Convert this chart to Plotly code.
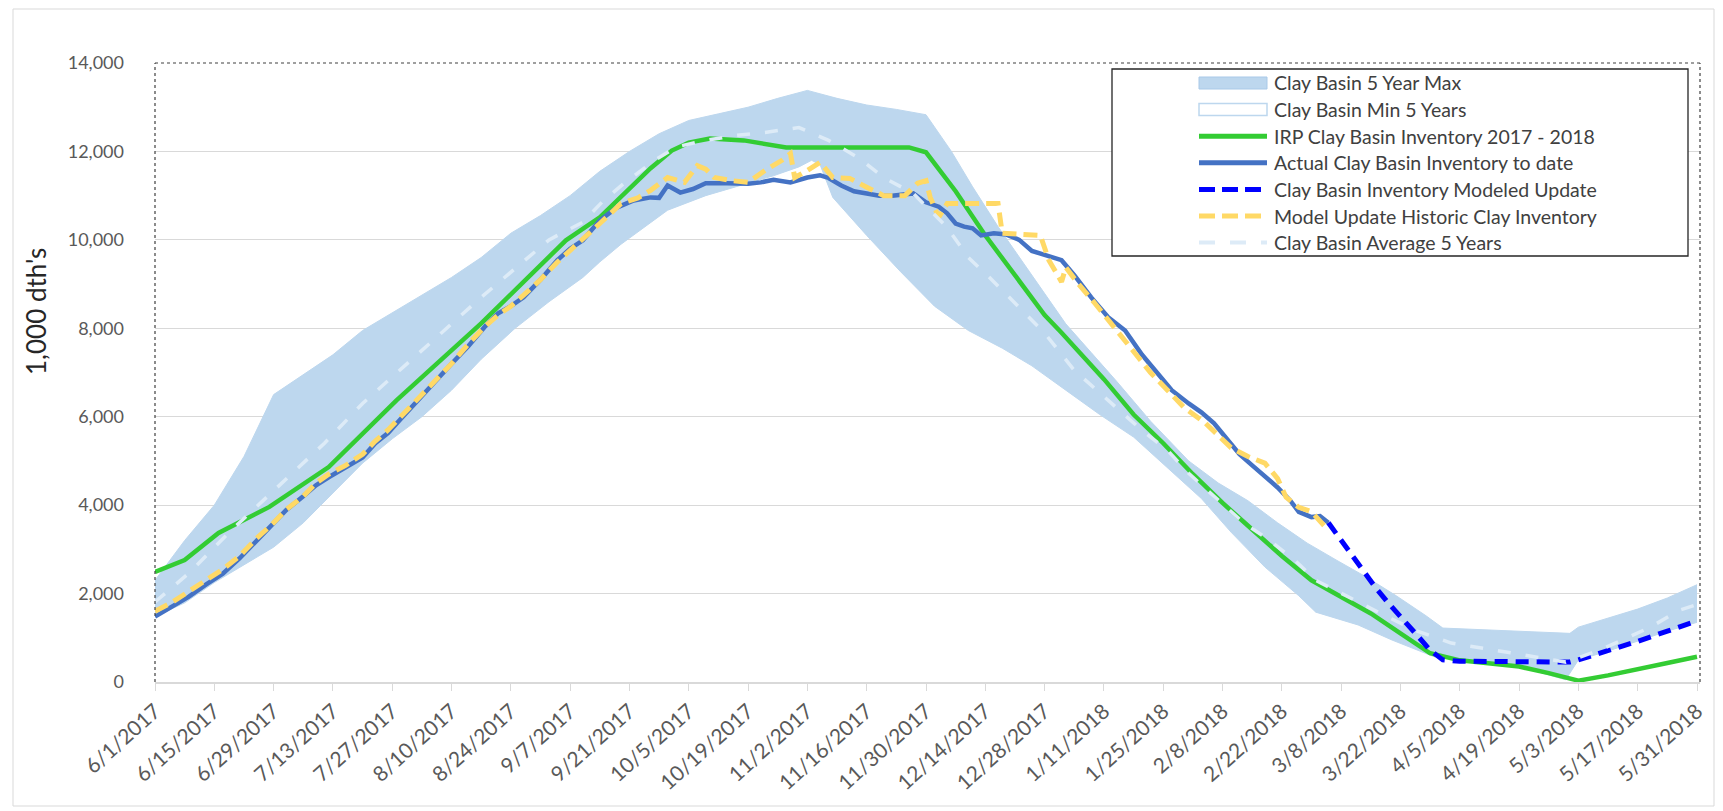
import pandas as pd
import plotly.graph_objects as go

# ---------------- data (values in 1,000 dth's, x = days after 6/1/2017) -------------
base_date = "2017-06-01"

max5_days = [0, 7, 14, 21, 28, 35, 42, 49, 56, 63, 70, 77, 84, 91, 98, 105, 112, 119, 126, 133,
             140, 147, 154, 161, 168, 175, 182, 188, 193, 199, 207, 215, 221, 227, 235, 244, 251,
             258, 265, 272, 279, 286, 293, 300, 304, 319, 334, 336, 343, 350, 357, 364]
max5_vals = [2300, 3200, 4000, 5100, 6500, 6950, 7400, 7950, 8350, 8750, 9150, 9600, 10150, 10550,
             11000, 11550, 12000, 12400, 12700, 12850, 13000, 13200, 13380, 13200, 13050, 12950,
             12830, 12000, 11200, 10300, 9200, 8100, 7450, 6800, 5900, 5000, 4500, 4100, 3600,
             3140, 2750, 2370, 1950, 1500, 1220, 1160, 1100, 1240, 1450, 1650, 1900, 2200]

min5_days = [0, 7, 14, 21, 28, 35, 41, 49, 56, 63, 70, 77, 85, 93, 101, 105, 110, 117, 121, 130,
             140, 146, 152, 155, 157, 160, 168, 176, 184, 192, 200, 207, 215, 223, 231, 239, 247,
             254, 262, 270, 274, 284, 292, 302, 308, 322, 333, 336, 343, 350, 357, 364]
min5_vals = [1480, 1790, 2250, 2650, 3050, 3600, 4180, 4950, 5500, 6000, 6600, 7300, 8000, 8600,
             9150, 9500, 9900, 10400, 10670, 11000, 11280, 11450, 11650, 11800, 11700, 10960,
             10100, 9280, 8500, 7950, 7550, 7150, 6600, 6050, 5540, 4850, 4150, 3390, 2600, 1950,
             1580, 1290, 950, 570, 500, 350, 50, 500, 700, 920, 1150, 1350]

irp_days = [0, 7, 15, 27, 41, 57, 77, 97, 105, 117, 122, 126, 131, 139, 149, 178, 182, 189, 196,
            203, 210, 214, 224, 231, 238, 245, 252, 259, 266, 273, 280, 287, 294, 301, 308, 315,
            322, 329, 336, 343, 350, 357, 364]
irp_vals = [2490, 2760, 3370, 3960, 4860, 6370, 8110, 9990, 10510, 11620, 12020, 12200, 12290,
            12250, 12090, 12090, 11980, 11100, 10100, 9200, 8300, 7900, 6850, 6050, 5400, 4700,
            4050, 3450, 2850, 2300, 1930, 1550, 1100, 650, 490, 430, 350, 200, 30, 150, 300, 430,
            570]

actual_days = [0, 4, 8, 12, 16, 20, 24, 28, 31, 35, 38, 41, 45, 49, 52, 55, 58, 62, 66, 70, 74,
               78, 81, 84, 87, 91, 95, 98, 101, 105, 109, 113, 117, 119, 121, 124, 127, 130, 135,
               140, 143, 146, 150, 154, 157, 159, 162, 165, 168, 171, 174, 177, 179, 182, 185,
               187, 189, 191, 193, 195, 198, 201, 204, 207, 210, 214, 217, 221, 225, 229, 233,
               237, 240, 244, 247, 250, 253, 256, 259, 262, 265, 268, 270, 273, 275, 277]
actual_vals = [1480, 1700, 1930, 2200, 2450, 2800, 3200, 3600, 3890, 4200, 4450, 4630, 4850, 5080,
               5400, 5630, 5950, 6370, 6800, 7200, 7600, 8050, 8340, 8500, 8700, 9100, 9540, 9800,
               9990, 10440, 10730, 10890, 10960, 10950, 11230, 11070, 11150, 11280, 11280, 11270,
               11300, 11360, 11300, 11410, 11460, 11400, 11230, 11100, 11050, 11000, 11000, 11020,
               11050, 10850, 10750, 10600, 10370, 10300, 10260, 10100, 10150, 10120, 10000, 9750,
               9650, 9540, 9200, 8700, 8250, 7950, 7400, 6950, 6600, 6300, 6100, 5850, 5500, 5150,
               4900, 4650, 4400, 4100, 3850, 3730, 3750, 3600]

modeled_days = [277, 280, 284, 288, 291, 295, 298, 301, 304, 308, 322, 334, 336, 343, 350, 357, 364]
modeled_vals = [3600, 3200, 2700, 2150, 1800, 1350, 1050, 720, 500, 470, 450, 450, 500, 700, 920,
                1150, 1380]

historic_days = [0, 4, 8, 12, 16, 20, 24, 28, 31, 35, 38, 41, 45, 49, 52, 55, 58, 62, 66, 70, 74,
                 78, 81, 84, 87, 91, 95, 98, 101, 105, 110, 114, 117, 121, 125, 128, 130, 132,
                 136, 140, 144, 148, 150, 151, 154, 157, 160, 164, 168, 172, 177, 180, 182, 183,
                 185, 187, 193, 199, 200, 205, 209, 211, 214, 215, 218, 222, 227, 231, 235, 239,
                 243, 248, 254, 258, 262, 265, 267, 270, 273, 277]
historic_vals = [1600, 1800, 2050, 2300, 2550, 2850, 3250, 3600, 3900, 4200, 4500, 4700, 4900,
                 5150, 5450, 5700, 6000, 6400, 6800, 7200, 7650, 8050, 8300, 8500, 8750, 9100,
                 9500, 9750, 10000, 10370, 10820, 10950, 11120, 11410, 11300, 11680, 11600, 11410,
                 11340, 11300, 11570, 11800, 11950, 11410, 11570, 11750, 11410, 11390, 11190,
                 11000, 11000, 11280, 11340, 10960, 10510, 10820, 10820, 10820, 10150, 10120,
                 10100, 9540, 9050, 9380, 9000, 8550, 7950, 7500, 7000, 6600, 6200, 5850, 5300,
                 5100, 4950, 4600, 4180, 3950, 3850, 3430]

avg_days = [0, 8, 18, 31, 40, 49, 63, 77, 93, 101, 106, 111, 118, 123, 130, 137, 144, 152, 159,
            166, 172, 179, 187, 192, 197, 203, 210, 217, 223, 228, 233, 239, 244, 250, 257, 263,
            269, 274, 282, 291, 298, 306, 320, 333, 341, 347, 353, 360, 364]
avg_vals = [1810, 2460, 3430, 4600, 5400, 6300, 7500, 8700, 10000, 10400, 10900, 11300, 11800,
            12100, 12250, 12360, 12430, 12540, 12250, 11860, 11410, 11050, 10280, 9600, 9150,
            8560, 7890, 7050, 6530, 6100, 5690, 5240, 4720, 4200, 3600, 3210, 2760, 2300, 1900,
            1470, 1150, 880, 660, 450, 720, 990, 1240, 1630, 1750]

tick_labels = ["6/1/2017", "6/15/2017", "6/29/2017", "7/13/2017", "7/27/2017", "8/10/2017",
               "8/24/2017", "9/7/2017", "9/21/2017", "10/5/2017", "10/19/2017", "11/2/2017",
               "11/16/2017", "11/30/2017", "12/14/2017", "12/28/2017", "1/11/2018", "1/25/2018",
               "2/8/2018", "2/22/2018", "3/8/2018", "3/22/2018", "4/5/2018", "4/19/2018",
               "5/3/2018", "5/17/2018", "5/31/2018"]

series_names = ["Clay Basin 5 Year Max", "Clay Basin Min 5 Years",
                "IRP Clay Basin Inventory 2017 - 2018", "Actual Clay Basin Inventory to date",
                "Clay Basin Inventory Modeled Update", "Model Update Historic Clay Inventory",
                "Clay Basin Average 5 Years"]

# ---------------- helpers ----------------
b = pd.Timestamp(base_date)


def to_dates(days):
    return [b + pd.Timedelta(days=d) for d in days]


tick_vals = list(pd.to_datetime(tick_labels, format="%m/%d/%Y"))

W, H = 1723, 811
ML, MR, MT, MB = 155, 23, 63, 129
PW, PH = W - ML - MR, H - MT - MB


def px(x):
    return (x - ML) / PW


def py(y):
    return (H - MB - y) / PH


BAND = "#BDD7EE"
GREEN = "#33CC33"
ACT = "#4472C4"
MOD = "#0000FF"
HIST = "#FFD966"
AVG = "#DDEBF7"
FONT = "Lato"

fig = go.Figure()
fig.add_trace(go.Scatter(x=to_dates(min5_days), y=min5_vals, mode="lines",
                         line=dict(color=BAND, width=1), name=series_names[1],
                         showlegend=False, hoverinfo="skip"))
fig.add_trace(go.Scatter(x=to_dates(max5_days), y=max5_vals, mode="lines", fill="tonexty",
                         fillcolor=BAND, line=dict(color=BAND, width=1),
                         name=series_names[0], showlegend=False))
fig.add_trace(go.Scatter(x=to_dates(irp_days), y=irp_vals, mode="lines",
                         line=dict(color=GREEN, width=4.5), name=series_names[2],
                         showlegend=False))
fig.add_trace(go.Scatter(x=to_dates(actual_days), y=actual_vals, mode="lines",
                         line=dict(color=ACT, width=4.5), name=series_names[3],
                         showlegend=False))
fig.add_trace(go.Scatter(x=to_dates(modeled_days), y=modeled_vals, mode="lines",
                         line=dict(color=MOD, width=5, dash="13px,8px"), name=series_names[4],
                         showlegend=False))
fig.add_trace(go.Scatter(x=to_dates(historic_days), y=historic_vals, mode="lines",
                         line=dict(color=HIST, width=5, dash="14px,7px"), name=series_names[5],
                         showlegend=False))
fig.add_trace(go.Scatter(x=to_dates(avg_days), y=avg_vals, mode="lines",
                         line=dict(color=AVG, width=3.5, dash="13px,15px"), name=series_names[6],
                         showlegend=False))

shapes = []
annotations = []

# outer chart border
shapes.append(dict(type="rect", xref="paper", yref="paper", x0=px(13), x1=px(1714),
                   y0=py(806), y1=py(9), line=dict(color="#D9D9D9", width=1),
                   fillcolor="rgba(0,0,0,0)", layer="below"))
# plot area dotted border (top, left, right)
for (x0, y0, x1, y1) in [(0, 1, 1, 1), (0, 0, 0, 1), (1, 0, 1, 1)]:
    shapes.append(dict(type="line", xref="paper", yref="paper", x0=x0, y0=y0, x1=x1, y1=y1,
                       line=dict(color="#404040", width=1.2, dash="dot")))

# custom legend
LX0, LX1, LY0, LY1 = 1112, 1688, 69, 256
shapes.append(dict(type="rect", xref="paper", yref="paper", x0=px(LX0), x1=px(LX1),
                   y0=py(LY1), y1=py(LY0), line=dict(color="#262626", width=1.3),
                   fillcolor="white"))
SX0, SX1 = 1199, 1267
rows = [83 + 26.6 * i for i in range(7)]
# band symbols
shapes.append(dict(type="rect", xref="paper", yref="paper", x0=px(SX0), x1=px(SX1),
                   y0=py(rows[0] + 6), y1=py(rows[0] - 6), line=dict(color="#A9C9E8", width=1),
                   fillcolor=BAND))
shapes.append(dict(type="rect", xref="paper", yref="paper", x0=px(SX0), x1=px(SX1),
                   y0=py(rows[1] + 6), y1=py(rows[1] - 6), line=dict(color=BAND, width=1.5),
                   fillcolor="white"))
sym_styles = [(GREEN, 5, None), (ACT, 5, None), (MOD, 5, "16px,7px"), (HIST, 5, "16px,7px"),
              (AVG, 4, "16px,15px")]
for i, (c, w, d) in enumerate(sym_styles):
    ln = dict(color=c, width=w)
    if d:
        ln["dash"] = d
    shapes.append(dict(type="line", xref="paper", yref="paper", x0=px(SX0), x1=px(SX1),
                       y0=py(rows[i + 2]), y1=py(rows[i + 2]), line=ln))
for i, name in enumerate(series_names):
    annotations.append(dict(xref="paper", yref="paper", x=px(1272), y=py(rows[i]),
                            xanchor="left", yanchor="middle", showarrow=False, text=name,
                            font=dict(family=FONT, size=19.5, color="#404040")))

# y axis title
annotations.append(dict(xref="paper", yref="paper", x=px(36), y=py(312), xanchor="center",
                        yanchor="middle", showarrow=False, text="1,000 dth's", textangle=-90,
                        font=dict(family=FONT, size=26, color="#262626")))

fig.update_layout(
    width=W, height=H, autosize=False,
    margin=dict(l=ML, r=MR, t=MT, b=MB),
    paper_bgcolor="white", plot_bgcolor="white",
    showlegend=False,
    shapes=shapes, annotations=annotations,
    font=dict(family=FONT, color="#595959"),
)
fig.update_xaxes(
    type="date", range=[b, pd.Timestamp("2018-05-31 17:00")],
    tickvals=tick_vals, ticktext=tick_labels, tickangle=-42,
    tickfont=dict(family=FONT, size=21, color="#595959"),
    showgrid=False, showline=True, linecolor="#D9D9D9", linewidth=1.5,
    ticks="outside", ticklen=7, tickcolor="#D9D9D9", tickwidth=1.3, zeroline=False,
)
fig.update_yaxes(
    range=[0, 14000], dtick=2000, tick0=0, tickformat=",",
    tickfont=dict(family=FONT, size=18, color="#595959"),
    showgrid=True, gridcolor="#D9D9D9", gridwidth=1.3, zeroline=False, showline=False,
    ticks="", ticklabelstandoff=30,
)

fig.write_html("out.html", config={"displayModeBar": False},
               post_script="document.body.style.margin='0';document.body.style.overflow='hidden';")
